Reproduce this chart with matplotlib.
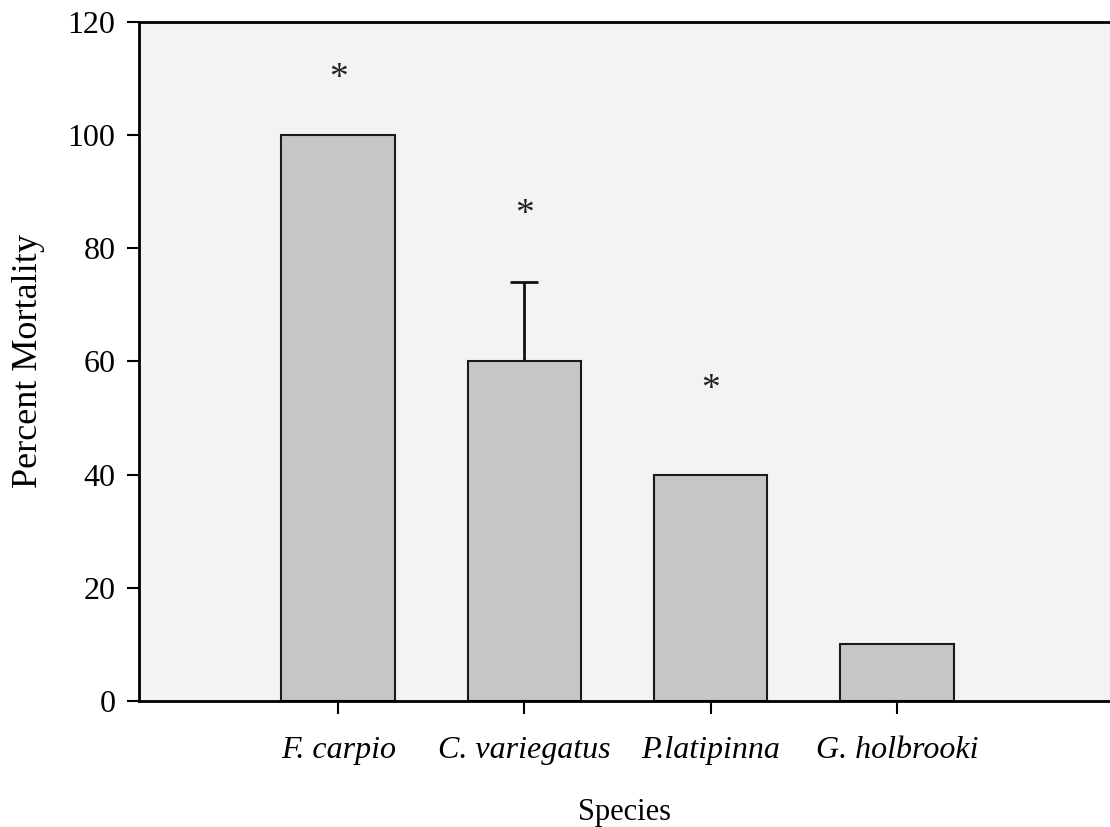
import matplotlib
matplotlib.use("Agg")
import matplotlib.pyplot as plt

species = ["F. carpio", "C. variegatus", "P.latipinna", "G. holbrooki"]
mortality = [100, 60, 40, 10]
err_upper = [0, 14, 0, 0]
star_y = [110, 86, 55, None]

plt.rcParams["font.family"] = ["Liberation Serif", "DejaVu Serif"]

fig = plt.figure(figsize=(11.1, 8.27), dpi=100)
ax = fig.add_axes([0.1252, 0.1524, 0.8748, 0.821])
ax.set_facecolor("#f3f3f3")

x = list(range(len(species)))
ax.bar(x, mortality, width=0.61, color="#c6c6c6", edgecolor="#1a1a1a",
       linewidth=1.5, zorder=2)

# upper error bars only, for the bars that have one
ex = [xi for xi, e in zip(x, err_upper) if e > 0]
ey = [m for m, e in zip(mortality, err_upper) if e > 0]
ee = [e for e in err_upper if e > 0]
_, caps, _ = ax.errorbar(ex, ey, yerr=[[0] * len(ee), ee], fmt="none",
                         ecolor="#111111", elinewidth=2, capsize=10,
                         capthick=2, zorder=3)
for c in caps:
    if list(c.get_ydata()) == ey:
        c.set_visible(False)

for xi, s in zip(x, star_y):
    if s is not None:
        ax.text(xi, s, "*", ha="center", va="center", fontsize=27, color="#222222")

ax.set_xlim(-1.07, 4.145)
ax.set_ylim(0, 120)
ax.set_yticks(range(0, 121, 20))
ax.set_xticks(x)
ax.set_xticklabels(species, fontstyle="italic", fontsize=23)
ax.tick_params(axis="y", labelsize=23, length=9, width=1.5, direction="out", pad=8)
ax.tick_params(axis="x", length=9, width=1.5, direction="out", pad=16)
ax.spines["right"].set_visible(False)
for sp in ["left", "top", "bottom"]:
    ax.spines[sp].set_linewidth(2)
ax.set_ylabel("Percent Mortality", fontsize=26, labelpad=16)
ax.set_xlabel("Species", fontsize=22, labelpad=24)

fig.savefig("out.png", dpi=100)
